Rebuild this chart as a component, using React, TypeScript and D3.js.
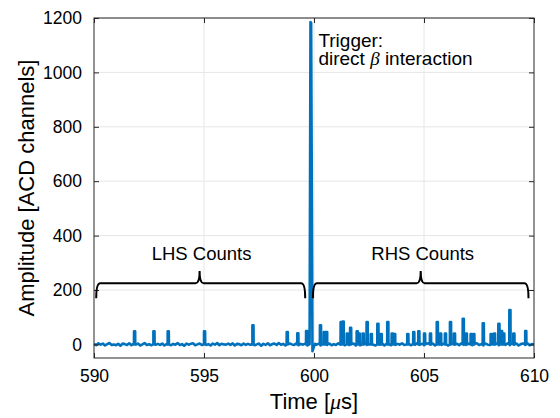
import React, { useEffect, useRef } from 'react';
import * as d3 from 'd3';

// baseline noise, sampled every 0.1 us from 590 to 610
const baseStart = 590;
const baseStep = 0.1;
const baseNoise = [
  2, -3, 4, -1, 3, -4, 1, 5, -2, 0,
  -3, 2, -5, 3, 1, -2, 4, -3, 2, -1,
  3, -4, 0, 5, -2, 1, -3, 4, -1, 2,
  -2, 3, -4, 1, 4, -3, 2, -1, 5, -2,
  1, -5, 3, -1, 2, 4, -3, 0, 3, -2,
  4, -2, 1, -4, 3, -1, 5, -3, 2, 0,
  -1, 3, -2, 4, -4, 2, 1, -3, 3, -2,
  2, -1, 4, -3, 0, 3, -5, 2, -2, 4,
  -3, 1, 3, -2, 5, -1, 2, -4, 1, 3,
  0, -2, 4, -3, 2, -1, 3, -4, 5, -2,
  3, -1, 2, -4, 1, 4, -2, 3, -3, 1,
  -2, 4, -1, 2, -3, 5, -2, 1, 3, -4,
  2, -3, 1, 4, -2, 0, 3, -1, -4, 2,
  -1, 3, -4, 2, 1, -3, 4, -2, 2, -1,
  4, -2, 0, 3, -3, 1, -1, 5, -2, 2,
  -3, 2, 4, -1, 3, -4, 2, 0, -2, 3,
  1, -4, 2, 3, -1, 2, -3, 4, -1, -2,
  3, 0, -3, 2, 4, -2, 1, -4, 3, -1,
  -2, 5, -1, 3, -3, 2, 0, -2, 4, -3,
  2, -1, 3, -4, 1, 3, -2, 4, -3, 1,
  0,
];

// single counts (pulse time in us, amplitude)
const spikeTimes = [
  591.82, 592.7, 593.35, 595.0, 597.2, 598.76, 599.24, 599.64,
  600.27, 600.45, 600.55, 601.21, 601.3, 601.49, 601.64, 601.94, 602.03, 602.21,
  602.39, 602.58, 602.88, 603.03, 603.33, 603.53, 603.64, 604.24, 604.51, 604.74,
  605.0, 605.27, 605.58, 605.73, 605.95, 606.18, 606.36, 606.76, 606.9, 607.12,
  607.24, 607.67, 608.03, 608.18, 608.38, 608.5, 608.6, 608.88, 609.06, 609.6,
];
const spikeAmps = [
  48, 48, 48, 48, 70, 45, 41, 49,
  70, 45, 45, 82, 84, 40, 61, 48, 40, 40,
  82, 38, 76, 38, 82, 40, 38, 38, 45, 48,
  40, 40, 82, 40, 40, 82, 40, 94, 40, 38,
  38, 78, 38, 40, 76, 49, 40, 126, 40, 49,
];

// trigger pulse
const triggerTimes = [599.8, 599.84, 599.87, 599.93, 600.0, 600.05];
const triggerValues = [1, 1185, 1182, -25, -8, 2];

// annotations (data coordinates)
const braceStarts = [590.1, 599.95];
const braceEnds = [599.6, 609.75];
const braceMids = [594.8, 604.85];
const braceLabels = ['LHS Counts', 'RHS Counts'];
const braceLevel = 225;
const braceTip = 170;
const bracePeak = 270;
const braceLabelY = 312;

const xTicks = [590, 595, 600, 605, 610];
const yTicks = [0, 200, 400, 600, 800, 1000, 1200];

const FONT = '"Liberation Sans", Arial, Helvetica, sans-serif';
const BLUE = '#0072BD';

const App = () => {
  const ref = useRef<SVGSVGElement>(null);

  useEffect(() => {
    const svg = d3.select(ref.current);
    svg.selectAll('*').remove();

    const left = 94, right = 534, top = 18, bottom = 358;
    const x = d3.scaleLinear().domain([590, 610]).range([left, right]);
    const y = d3.scaleLinear().domain([-50, 1200]).range([bottom, top]);

    svg.append('rect')
      .attr('x', left).attr('y', top)
      .attr('width', right - left).attr('height', bottom - top)
      .attr('fill', '#fff');

    // grid
    const grid = svg.append('g').attr('stroke', '#e6e6e6').attr('stroke-width', 1);
    grid.selectAll('.gx').data(xTicks.slice(1, -1)).enter().append('line')
      .attr('x1', d => x(d)).attr('x2', d => x(d))
      .attr('y1', top).attr('y2', bottom);
    grid.selectAll('.gy').data(yTicks).enter().append('line')
      .attr('x1', left).attr('x2', right)
      .attr('y1', d => y(d)).attr('y2', d => y(d));

    // signal
    const pts: [number, number][] = [];
    baseNoise.forEach((v, i) => {
      const t = baseStart + i * baseStep;
      if (t > 599.75 && t < 600.1) return;
      pts.push([t, v]);
    });
    spikeTimes.forEach((t, i) => {
      pts.push([t - 0.004, 0]);
      pts.push([t, spikeAmps[i]]);
      pts.push([t + 0.05, spikeAmps[i]]);
      pts.push([t + 0.055, 0]);
    });
    triggerTimes.forEach((t, i) => pts.push([t, triggerValues[i]]));
    pts.sort((a, b) => a[0] - b[0]);

    const line = d3.line<[number, number]>()
      .x(d => x(d[0]))
      .y(d => y(d[1]));

    svg.append('path')
      .datum(pts)
      .attr('d', line)
      .attr('fill', 'none')
      .attr('stroke', BLUE)
      .attr('stroke-width', 2.6)
      .attr('stroke-linejoin', 'round');

    // axes with inward ticks
    const axisStyle = (g: any) => {
      g.select('.domain').remove();
      g.selectAll('line').attr('stroke', '#262626');
      g.selectAll('text')
        .attr('font-family', FONT)
        .attr('font-size', 17.5)
        .attr('fill', '#000');
    };

    svg.append('g')
      .attr('transform', `translate(0,${bottom})`)
      .call(d3.axisBottom(x).tickValues(xTicks).tickFormat(d3.format('d')).tickSize(-5).tickPadding(12))
      .call(axisStyle);
    svg.append('g')
      .attr('transform', `translate(0,${top})`)
      .call(d3.axisTop(x).tickValues(xTicks).tickFormat(() => '').tickSize(-5))
      .call(axisStyle);
    svg.append('g')
      .attr('transform', `translate(${left},0)`)
      .call(d3.axisLeft(y).tickValues(yTicks).tickFormat(d3.format('d')).tickSize(-5).tickPadding(12))
      .call(axisStyle);
    svg.append('g')
      .attr('transform', `translate(${right},0)`)
      .call(d3.axisRight(y).tickValues(yTicks).tickFormat(() => '').tickSize(-5))
      .call(axisStyle);

    svg.append('rect')
      .attr('x', left).attr('y', top)
      .attr('width', right - left).attr('height', bottom - top)
      .attr('fill', 'none')
      .attr('stroke', '#262626')
      .attr('stroke-width', 1);

    // braces
    const r = 4;
    braceStarts.forEach((s, i) => {
      const x0 = x(s), x1 = x(braceEnds[i]), xm = x(braceMids[i]);
      const yb = y(braceLevel), yt = y(braceTip), ym = y(bracePeak);
      const p = d3.path();
      p.moveTo(x0, yt);
      p.quadraticCurveTo(x0, yb, x0 + r, yb);
      p.lineTo(xm - r, yb);
      p.quadraticCurveTo(xm, yb, xm, ym);
      p.quadraticCurveTo(xm, yb, xm + r, yb);
      p.lineTo(x1 - r, yb);
      p.quadraticCurveTo(x1, yb, x1, yt);
      svg.append('path')
        .attr('d', p.toString())
        .attr('fill', 'none')
        .attr('stroke', '#000')
        .attr('stroke-width', 2);
      svg.append('text')
        .attr('x', xm + 2)
        .attr('y', y(braceLabelY))
        .attr('text-anchor', 'middle')
        .attr('font-family', FONT)
        .attr('font-size', 18.5)
        .text(braceLabels[i]);
    });

    // trigger annotation
    const tt = svg.append('text')
      .attr('font-family', FONT)
      .attr('font-size', 19);
    tt.append('tspan').attr('x', x(600.2)).attr('y', y(1095)).text('Trigger:');
    const l2 = tt.append('tspan').attr('x', x(600.2)).attr('y', y(1027));
    l2.append('tspan').text('direct ');
    l2.append('tspan').attr('font-family', '"Liberation Serif", serif').attr('font-style', 'italic').text('β');
    l2.append('tspan').text(' interaction');

    // axis labels
    const xl = svg.append('text')
      .attr('x', (left + right) / 2)
      .attr('y', 409)
      .attr('text-anchor', 'middle')
      .attr('font-family', FONT)
      .attr('font-size', 22);
    xl.append('tspan').text('Time [');
    xl.append('tspan').attr('font-family', '"Liberation Serif", serif').attr('font-style', 'italic').text('μ');
    xl.append('tspan').text('s]');

    svg.append('text')
      .attr('transform', `translate(34,${(top + bottom) / 2}) rotate(-90)`)
      .attr('text-anchor', 'middle')
      .attr('font-family', FONT)
      .attr('font-size', 22)
      .text('Amplitude [ACD channels]');
  }, []);

  return (
    <svg
      ref={ref}
      width={560}
      height={418}
      style={{ position: 'absolute', left: 0, top: 0, background: '#fff' }}
    ></svg>
  );
};

export default App;
